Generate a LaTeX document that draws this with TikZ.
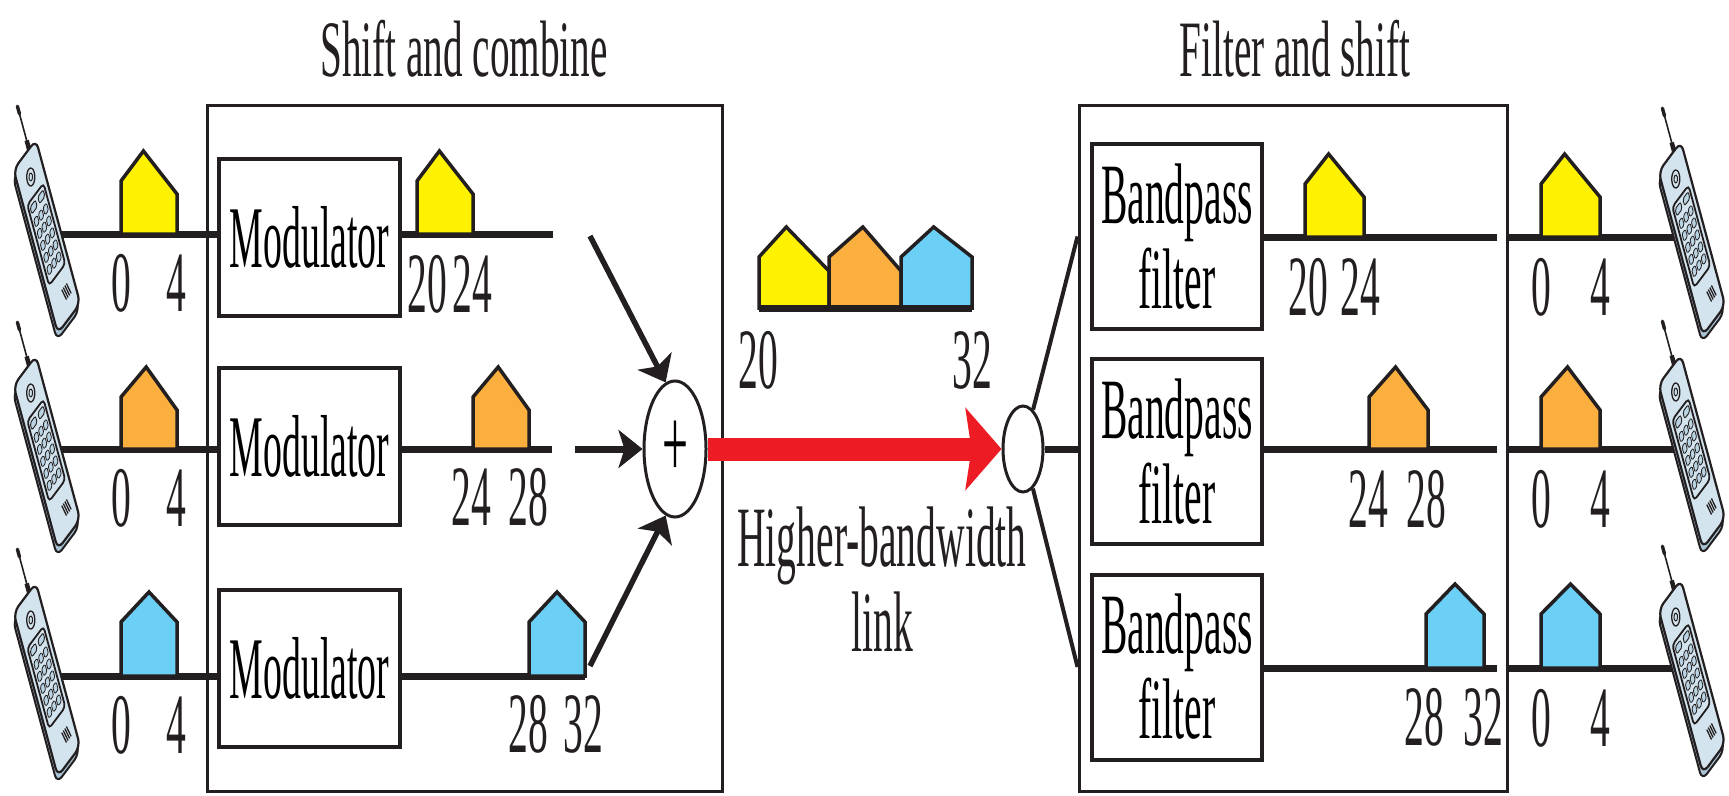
\documentclass[tikz,border=0pt]{standalone}
\usepackage{fontspec}
\setmainfont{Liberation Serif}
\newfontfamily\modfont{Liberation Serif}[FakeStretch=0.43]
\newfontfamily\lblfont{Liberation Serif}[FakeStretch=0.46]
\newfontfamily\ttlfont{Liberation Serif}[FakeStretch=0.49]
\usetikzlibrary{arrows.meta,shapes.geometric,calc}

\definecolor{ink}{HTML}{231F20}
\definecolor{sigyellow}{HTML}{FFF200}
\definecolor{sigorange}{HTML}{FBAF3F}
\definecolor{sigblue}{HTML}{6CCFF6}
\definecolor{linkred}{HTML}{ED1C24}
\definecolor{phonebody}{HTML}{D3E4EE}
\definecolor{phoneside}{HTML}{A9C4D4}
\definecolor{phonekey}{HTML}{B9D3E2}

% spectrum block: colour, left x, base y, width, left height, peak position, peak height, right height
\newcommand{\band}[8]{%
  \filldraw[sigline,fill=#1] (#2,#3) -- (#2,{#3-#5}) -- ({#2+#6*#4},{#3-#7})
    -- ({#2+#4},{#3-#8}) -- ({#2+#4},#3) -- cycle;}
\newcommand{\ylwband}[3]{\band{sigyellow}{#1}{#2}{#3}{53}{0.4}{83}{40}}
\newcommand{\orgband}[3]{\band{sigorange}{#1}{#2}{#3}{52}{0.45}{82}{39}}
\newcommand{\bluband}[3]{\band{sigblue}{#1}{#2}{#3}{54}{0.5}{84}{54}}

% mobile handset, tilted
\newcommand{\handset}[2]{%
\begin{scope}[shift={(#1,#2)},xscale=0.45,rotate=31]
  \draw[ink,line width=1.6pt] (11,-96) -- (11,-140);
  \draw[ink,line width=3.4pt,line cap=round] (11,-137) -- (11,-146);
  \draw[ink,line width=4.5pt] (11,-95) -- (11,-106);
  \filldraw[fill=phoneside,draw=ink,line width=2pt,rounded corners=8pt] (-34,-90) rectangle (24,100);
  \filldraw[fill=phonebody,draw=ink,line width=2.2pt,rounded corners=8pt] (-29,-96) rectangle (29,95);
  \draw[ink,line width=1.3pt] (0,-70) circle (9);
  \draw[ink,line width=1pt] (0,-70) circle (4);
  \filldraw[fill=phonebody,draw=ink,line width=1.8pt,rounded corners=4pt] (-21,-50) rectangle (21,44);
  \filldraw[fill=phonekey,draw=ink,line width=0.9pt,rounded corners=2pt] (-17,-45) rectangle (-3,-37);
  \filldraw[fill=phonekey,draw=ink,line width=0.9pt,rounded corners=2pt] (3,-45) rectangle (17,-37);
  \foreach \i in {-1,0,1}
    \foreach \j in {0,...,4}
      \filldraw[fill=phonekey,draw=ink,line width=0.8pt,rounded corners=1.5pt]
        ({\i*12-4.5},{-30+\j*14}) rectangle ++(9,9);
  \foreach \k in {0,...,3}
    \draw[ink,line width=1.3pt] ({1+\k*4},62) -- ({5+\k*4},76);
\end{scope}}

\begin{document}
\begin{tikzpicture}[x=1pt,y=-1pt,
  frame/.style={draw=ink,line width=3pt,inner sep=0pt},
  modbox/.style={draw=ink,line width=4pt,inner sep=0pt,fill=white,
    minimum width=181pt,minimum height=157pt,font=\modfont\fontsize{88}{88}\selectfont},
  bpbox/.style={draw=ink,line width=4pt,inner sep=0pt,fill=white,align=center,
    minimum width=170pt,minimum height=185pt,font=\lblfont\fontsize{86}{85}\selectfont},
  wire/.style={draw=ink,line width=7pt},
  thinwire/.style={draw=ink,line width=4pt},
  sigline/.style={draw=ink,line width=3.5pt,line join=miter},
  num/.style={font=\lblfont\fontsize{86}{86}\selectfont,anchor=base,inner sep=0pt,text=ink},
  ttl/.style={font=\ttlfont\fontsize{80}{80}\selectfont,anchor=base,inner sep=0pt,text=ink},
  feed/.style={draw=ink,line width=5.5pt,-{Stealth[length=24pt,width=38pt,inset=6pt]}},
  redlink/.style={draw=linkred,line width=23pt,-{Stealth[length=36pt,width=82pt,inset=6pt]}},
  junction/.style={ellipse,draw=ink,line width=3pt,inner sep=0pt,fill=white}]
\useasboundingbox (0,0) rectangle (1729,795);

% enclosing frames and their headings
\node[frame,minimum width=515pt,minimum height=686pt] (combL) at (464.5,448) {};
\node[frame,minimum width=428pt,minimum height=686pt] (combR) at (1293,448) {};
\node[ttl] (ttlL) at (464,76) {Shift and combine};
\node[ttl] (ttlR) at (1295,76) {Filter and shift};

% modulators and bandpass filters
\node[modbox] (mod1) at (309.5,237) {Modulator};
\node[modbox] (mod2) at (309.5,446) {Modulator};
\node[modbox] (mod3) at (309.5,668) {Modulator};
\node[bpbox] (bp1) at (1177,236.5) {Bandpass\\filter};
\node[bpbox] (bp2) at (1177,451.5) {Bandpass\\filter};
\node[bpbox] (bp3) at (1177,667) {Bandpass\\filter};

% input lines from the handsets
\coordinate (in1) at (45,234);
\coordinate (in2) at (45,449);
\coordinate (in3) at (45,676);
\draw[wire] (in1) -- (mod1.west |- in1);
\draw[wire] (in2) -- (mod2.west |- in2);
\draw[wire] (in3) -- (mod3.west |- in3);

% shifted outputs of the modulators
\coordinate (out1) at (553,234);
\coordinate (out2) at (552,449);
\coordinate (out3) at (585,676);
\draw[wire] (mod1.east |- out1) -- (out1);
\draw[wire] (mod2.east |- out2) -- (out2);
\draw[wire] (mod3.east |- out3) -- (out3);

% filter outputs and lines to the receiving handsets
\coordinate (r1) at (1497,237);
\coordinate (r2) at (1497,449);
\coordinate (r3) at (1497,668);
\draw[wire] (bp1.east |- r1) -- (r1);
\draw[wire] (bp2.east |- r2) -- (r2);
\draw[wire] (bp3.east |- r3) -- (r3);
\coordinate (pR1) at (1700,237);
\coordinate (pR2) at (1700,449);
\coordinate (pR3) at (1700,668);
\draw[wire] (combR.east |- pR1) -- (pR1);
\draw[wire] (combR.east |- pR2) -- (pR2);
\draw[wire] (combR.east |- pR3) -- (pR3);

% spectra
\ylwband{121}{234}{56}
\orgband{121}{449}{56}
\bluband{121}{676}{56}
\ylwband{417}{234}{56}
\orgband{473}{449}{56}
\bluband{529}{676}{56}
\band{sigyellow}{759}{308}{70}{51}{0.39}{81}{37}
\band{sigorange}{829}{308}{72}{51}{0.47}{81}{37}
\band{sigblue}{901}{308}{71}{51}{0.46}{81}{51}
\ylwband{1305}{237}{59}
\orgband{1369}{449}{59}
\bluband{1426}{668}{58}
\ylwband{1541}{237}{59}
\orgband{1541}{449}{59}
\bluband{1541}{668}{59}
\draw[wire] (759,308) -- (972,308);

% frequency labels
\node[num] (a0) at (121,311) {0};   \node[num] (a4) at (176,311) {4};
\node[num] (b0) at (121,526) {0};   \node[num] (b4) at (176,526) {4};
\node[num] (c0) at (121,753) {0};   \node[num] (c4) at (176,753) {4};
\node[num] (m20) at (427,312) {20}; \node[num] (m24) at (472,312) {24};
\node[num] (n24) at (471,525) {24}; \node[num] (n28) at (528,525) {28};
\node[num] (o28) at (528,752) {28}; \node[num] (o32) at (583,752) {32};
\node[num] (s20) at (758,388) {20}; \node[num] (s32) at (972,388) {32};
\node[num] (f20) at (1308,315) {20}; \node[num] (f24) at (1360,315) {24};
\node[num] (g24) at (1368,527) {24}; \node[num] (g28) at (1426,527) {28};
\node[num] (h28) at (1424,745) {28}; \node[num] (h32) at (1483,745) {32};
\node[num] (x0) at (1541,315) {0};  \node[num] (x4) at (1600,315) {4};
\node[num] (y0) at (1541,527) {0};  \node[num] (y4) at (1600,527) {4};
\node[num] (z0) at (1541,746) {0};  \node[num] (z4) at (1600,746) {4};
\node[num] (linkA) at (882,566) {Higher-bandwidth};
\node[num] (linkB) at (882,651) {link};

% combiner and splitter
\node[junction,minimum width=62pt,minimum height=136pt,
  font=\lblfont\fontsize{100}{100}\selectfont] (plus) at (675,449) {+};
\node[junction,minimum width=40pt,minimum height=86pt] (split) at (1023,449) {};

\coordinate (f1) at (590,236);
\coordinate (f2) at (575,449);
\coordinate (f3) at (590,666);
\draw[feed] (f1) -- (plus.98);
\draw[feed,line width=7pt] (f2) -- (plus.west);
\draw[feed] (f3) -- (plus.262);
\draw[redlink] (plus.east) -- (split.west);

\coordinate (t1) at (combR.west |- bp1);
\coordinate (t3) at (combR.west |- bp3);
\draw[thinwire] (split) -- (t1);
\draw[thinwire] (split) -- (t3);
\draw[wire] (split.east) -- (combR.west |- split);

% handsets
\handset{47}{237}
\handset{47}{453}
\handset{47}{680}
\handset{1692}{239}
\handset{1692}{452}
\handset{1692}{677}
\end{tikzpicture}
\end{document}
